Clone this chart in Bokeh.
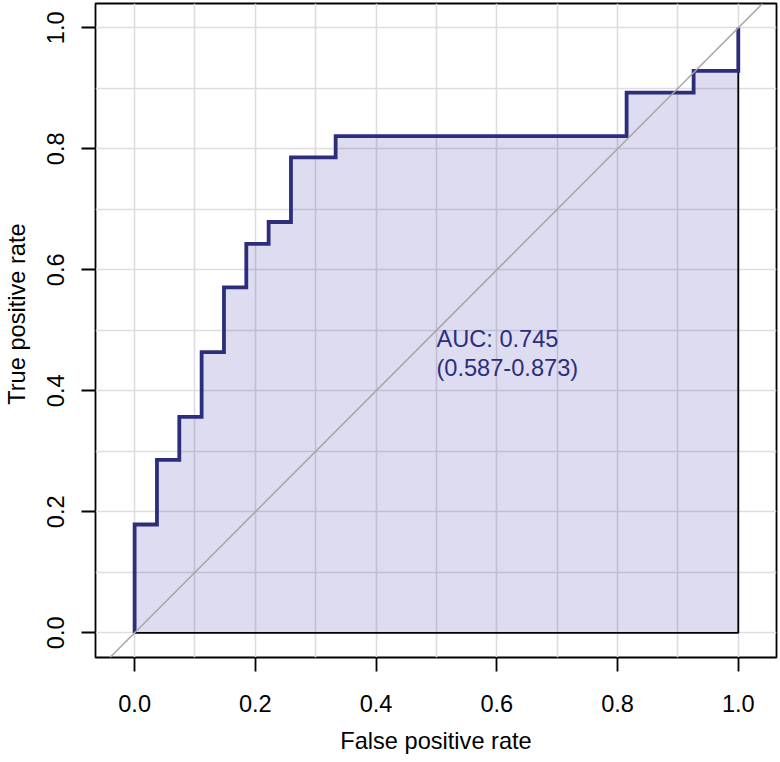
from bokeh.plotting import figure
from bokeh.models import FixedTicker, Range1d, Slope, ColumnDataSource, PrintfTickFormatter
from bokeh.core.properties import value
from bokeh.embed import file_html
from bokeh.resources import INLINE

# ROC path vertices (false positive rate, true positive rate)
fpr = [0.0, 0.0, 0.037, 0.037, 0.074, 0.074, 0.111, 0.111, 0.148, 0.148, 0.185, 0.185,
       0.222, 0.222, 0.259, 0.259, 0.333, 0.333, 0.815, 0.815, 0.926, 0.926, 1.0, 1.0]
tpr = [0.0, 0.179, 0.179, 0.286, 0.286, 0.357, 0.357, 0.464, 0.464, 0.571, 0.571, 0.643,
       0.643, 0.679, 0.679, 0.786, 0.786, 0.821, 0.821, 0.893, 0.893, 0.929, 0.929, 1.0]

tick_values = [0.0, 0.2, 0.4, 0.6, 0.8, 1.0]
grid_values = [0.0, 0.1, 0.2, 0.3, 0.4, 0.5, 0.6, 0.7, 0.8, 0.9, 1.0]

auc_lines = ["AUC: 0.745", "(0.587-0.873)"]
auc_x = [0.5]
auc_y = [0.5]

x_label = "False positive rate"
y_label = "True positive rate"

NAVY = "#2c2e7c"
FONT = "Liberation Sans"
FS = "23.6px"

p = figure(width=780, height=762, output_backend="svg", toolbar_location=None,
           x_range=Range1d(-0.0648, 1.0633), y_range=Range1d(-0.0408, 1.0402),
           min_border_left=94, min_border_right=4, min_border_top=3, min_border_bottom=105)
p.background_fill_color = "white"
p.border_fill_color = "white"
p.outline_line_color = "black"
p.outline_line_width = 1.8

for g in (p.xgrid[0], p.ygrid[0]):
    g.ticker = FixedTicker(ticks=grid_values)
    g.grid_line_color = "#dddddd"
    g.grid_line_width = 1.6

for ax in (p.xaxis[0], p.yaxis[0]):
    ax.ticker = FixedTicker(ticks=tick_values)
    ax.formatter = PrintfTickFormatter(format="%.1f")
    ax.axis_line_color = None
    ax.major_tick_in = 0
    ax.major_tick_out = 14
    ax.major_tick_line_color = "black"
    ax.major_tick_line_width = 1.8
    ax.minor_tick_line_color = None
    ax.major_label_text_font = FONT
    ax.major_label_text_font_size = FS
    ax.major_label_text_color = "black"
    ax.axis_label_text_font = FONT
    ax.axis_label_text_font_size = FS
    ax.axis_label_text_font_style = "normal"
    ax.axis_label_text_color = "black"

p.xaxis[0].axis_label = x_label
p.xaxis[0].major_label_standoff = 23
p.xaxis[0].axis_label_standoff = 13
p.yaxis[0].major_label_orientation = "vertical"
p.yaxis[0].major_label_standoff = 17
# label sits a little above the frame centre, as in the original
p.yaxis[0].axis_label = "\u00a0" * 5 + y_label
p.yaxis[0].axis_label_standoff = 15

poly_x = fpr + [fpr[-1]]
poly_y = tpr + [tpr[0]]
p.patch(poly_x, poly_y, fill_color="#10089a", fill_alpha=0.14,
        line_color="black", line_width=1.8)

diag = Slope(gradient=1, y_intercept=0, line_color="#a6a6a6", line_width=1.5, level="glyph")
p.add_layout(diag)

p.line(fpr, tpr, line_color=NAVY, line_width=3.8, line_join="miter")

src = ColumnDataSource(dict(x=auc_x, y=auc_y, t=["\n".join(auc_lines)]))
p.text(x="x", y="y", text="t", source=src, text_align="left", text_baseline="top",
       text_font=value(FONT), text_font_size=FS, text_color=NAVY, text_line_height=1.1,
       y_offset=-4)

open("out.html", "w").write(file_html(p, INLINE))
